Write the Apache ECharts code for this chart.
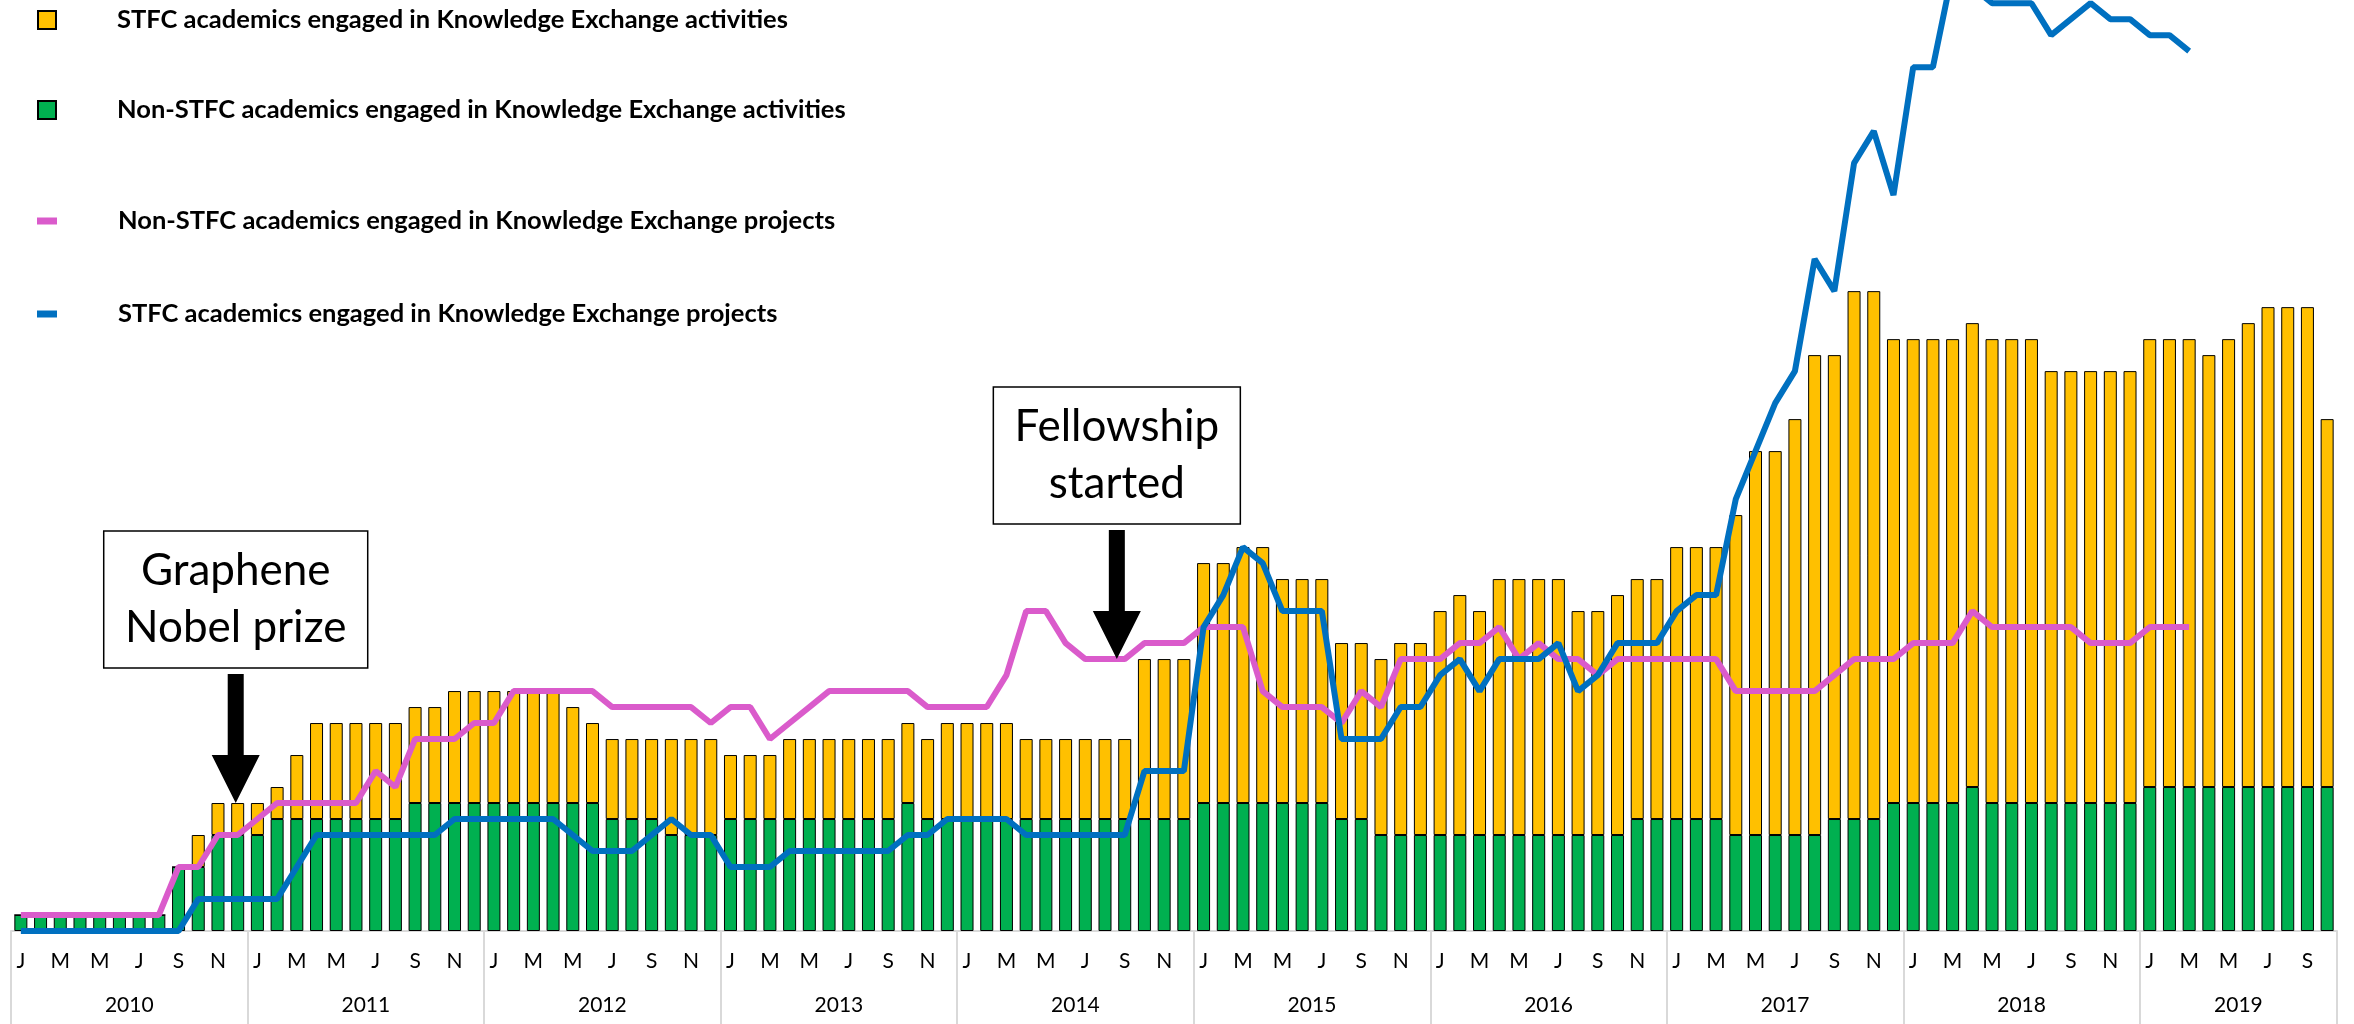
<!DOCTYPE html>
<html>
<head>
<meta charset="utf-8">
<title>Knowledge Exchange engagement</title>
<script src="https://cdn.jsdelivr.net/npm/echarts@6/dist/echarts.min.js"></script>
<style>
  html, body { margin: 0; padding: 0; background: #fff; }
  #chart { width: 2354px; height: 1024px; }
</style>
</head>
<body>
<div id="chart"></div>
<script>
// month letters and years for the two-level x axis
const monthLetters = ["J", "F", "M", "A", "M", "J", "J", "A", "S", "O", "N", "D"];
const years = ["2010", "2011", "2012", "2013", "2014", "2015", "2016", "2017", "2018", "2019"];
const monthsPerYear = [12, 12, 12, 12, 12, 12, 12, 12, 12, 10];

// Non-STFC academics engaged in KE activities (green, bottom of stack)
const nonStfcActivities = [
  1, 1, 1, 1, 1, 1, 1, 1, 4, 4, 6, 6,
  6, 7, 7, 7, 7, 7, 7, 7, 8, 8, 8, 8,
  8, 8, 8, 8, 8, 8, 7, 7, 7, 6, 6, 6,
  7, 7, 7, 7, 7, 7, 7, 7, 7, 8, 7, 7,
  7, 7, 7, 7, 7, 7, 7, 7, 7, 7, 7, 7,
  8, 8, 8, 8, 8, 8, 8, 7, 7, 6, 6, 6,
  6, 6, 6, 6, 6, 6, 6, 6, 6, 6, 7, 7,
  7, 7, 7, 6, 6, 6, 6, 6, 7, 7, 7, 8,
  8, 8, 8, 9, 8, 8, 8, 8, 8, 8, 8, 8,
  9, 9, 9, 9, 9, 9, 9, 9, 9, 9
];

// STFC academics engaged in KE activities (yellow, stacked on top)
const stfcActivities = [
  0, 0, 0, 0, 0, 0, 0, 0, 0, 2, 2, 2,
  2, 2, 4, 6, 6, 6, 6, 6, 6, 6, 7, 7,
  7, 7, 7, 7, 6, 5, 5, 5, 5, 6, 6, 6,
  4, 4, 4, 5, 5, 5, 5, 5, 5, 5, 5, 6,
  6, 6, 6, 5, 5, 5, 5, 5, 5, 10, 10, 10,
  15, 15, 16, 16, 14, 14, 14, 11, 11, 11, 12, 12,
  14, 15, 14, 16, 16, 16, 16, 14, 14, 15, 15, 15,
  17, 17, 17, 20, 24, 24, 26, 30, 29, 33, 33, 29,
  29, 29, 29, 29, 29, 29, 29, 27, 27, 27, 27, 27,
  28, 28, 28, 27, 28, 29, 30, 30, 30, 23
];

// Non-STFC academics engaged in KE projects (pink line)
const nonStfcProjects = [
  1, 1, 1, 1, 1, 1, 1, 1, 4, 4, 6, 6,
  7, 8, 8, 8, 8, 8, 10, 9, 12, 12, 12, 13,
  13, 15, 15, 15, 15, 15, 14, 14, 14, 14, 14, 13,
  14, 14, 12, 13, 14, 15, 15, 15, 15, 15, 14, 14,
  14, 14, 16, 20, 20, 18, 17, 17, 17, 18, 18, 18,
  19, 19, 19, 15, 14, 14, 14, 13, 15, 14, 17, 17,
  17, 18, 18, 19, 17, 18, 17, 17, 16, 17, 17, 17,
  17, 17, 17, 15, 15, 15, 15, 15, 16, 17, 17, 17,
  18, 18, 18, 20, 19, 19, 19, 19, 19, 18, 18, 18,
  19, 19, 19
];

// STFC academics engaged in KE projects (blue line)
const stfcProjects = [
  0, 0, 0, 0, 0, 0, 0, 0, 0, 2, 2, 2,
  2, 2, 4, 6, 6, 6, 6, 6, 6, 6, 7, 7,
  7, 7, 7, 7, 6, 5, 5, 5, 6, 7, 6, 6,
  4, 4, 4, 5, 5, 5, 5, 5, 5, 6, 6, 7,
  7, 7, 7, 6, 6, 6, 6, 6, 6, 10, 10, 10,
  19, 21, 24, 23, 20, 20, 20, 12, 12, 12, 14, 14,
  16, 17, 15, 17, 17, 17, 18, 15, 16, 18, 18, 18,
  20, 21, 21, 27, 30, 33, 35, 42, 40, 48, 50, 46,
  54, 54, 60, 59, 58, 58, 58, 56, 57, 58, 57, 57,
  56, 56, 55
];

const names = [
  "STFC academics engaged in Knowledge Exchange activities",
  "Non-STFC academics engaged in Knowledge Exchange activities",
  "Non-STFC academics engaged in Knowledge Exchange projects",
  "STFC academics engaged in Knowledge Exchange projects"
];

const categories = [];
const yearTicks = [0];
const yearCentres = [];
years.forEach(function (y, i) {
  for (let m = 0; m < monthsPerYear[i]; m++) {
    categories.push(monthLetters[m] + " " + y);
  }
  const start = yearTicks[yearTicks.length - 1];
  yearCentres.push(start + monthsPerYear[i] / 2);
  yearTicks.push(start + monthsPerYear[i]);
});

const FONT = "Lato, 'Noto Sans', sans-serif";

const chart = echarts.init(document.getElementById("chart"));

function legendFor(name, top, w, h) {
  return {
    data: [name],
    left: 37,
    top: top,
    padding: 0,
    itemWidth: w,
    itemHeight: h,
    icon: "rect",
    textStyle: {
      color: "#000",
      fontWeight: "bold",
      fontSize: 25.5,
      lineHeight: 28,
      fontFamily: FONT,
      padding: [0, 0, 0, 56]
    }
  };
}

chart.setOption({
  backgroundColor: "#FFFFFF",
  animation: false,
  legend: [
    legendFor(names[0], 6, 18, 18),
    legendFor(names[1], 96, 18, 18),
    legendFor(names[2], 207, 20, 7),
    legendFor(names[3], 300, 20, 7)
  ],
  grid: {
    left: 11,
    right: 17,
    top: 0,
    bottom: 93
  },
  xAxis: [
    {
      type: "category",
      data: categories,
      boundaryGap: true,
      axisLine: { lineStyle: { color: "#D9D9D9", width: 2 } },
      axisTick: { show: false },
      axisLabel: {
        interval: 1,
        margin: 20,
        color: "#000",
        fontSize: 21,
        fontFamily: FONT,
        formatter: function (v) {
          return v.split(" ")[0];
        }
      }
    },
    {
      type: "value",
      min: 0,
      max: yearTicks[yearTicks.length - 1],
      position: "bottom",
      axisLine: { show: false },
      splitLine: { show: false },
      axisTick: {
        show: true,
        customValues: yearTicks,
        length: 93,
        lineStyle: { color: "#D9D9D9", width: 2 }
      },
      axisLabel: {
        customValues: yearCentres,
        margin: 64,
        color: "#000",
        fontSize: 21,
        fontFamily: FONT,
        formatter: function (v) {
          return years[yearCentres.indexOf(v)];
        }
      }
    }
  ],
  yAxis: {
    type: "value",
    min: 0,
    max: 58.2,
    show: false
  },
  series: [
    {
      name: names[1],
      type: "bar",
      stack: "activities",
      barWidth: 13,
      data: nonStfcActivities,
      itemStyle: { color: "#00B050", borderColor: "#000", borderWidth: 1 }
    },
    {
      name: names[0],
      type: "bar",
      stack: "activities",
      barWidth: 13,
      data: stfcActivities,
      itemStyle: { color: "#FFC000", borderColor: "#000", borderWidth: 1 }
    },
    {
      name: names[2],
      type: "line",
      data: nonStfcProjects,
      symbol: "none",
      color: "#DA5BCB",
      lineStyle: { color: "#DA5BCB", width: 6 }
    },
    {
      name: names[3],
      type: "line",
      data: stfcProjects,
      symbol: "none",
      color: "#0070C0",
      lineStyle: { color: "#0070C0", width: 6 }
    }
  ]
});

// callout boxes with arrows, anchored to the chart's own coordinates
function callout(tip, lines, boxW) {
  const x = tip[0], y = tip[1];
  const boxH = 137, boxBottom = y - 135;
  return [
    {
      type: "rect",
      shape: { x: x - boxW / 2, y: boxBottom - boxH, width: boxW, height: boxH },
      style: { fill: "#fff", stroke: "#000", lineWidth: 1.5 },
      z: 100
    },
    {
      type: "text",
      z: 101,
      style: {
        x: x,
        y: boxBottom - boxH / 2,
        text: lines.join("\n"),
        align: "center",
        verticalAlign: "middle",
        fontSize: 44,
        lineHeight: 57,
        fontFamily: FONT,
        fill: "#000"
      }
    },
    {
      type: "polygon",
      z: 100,
      shape: {
        points: [
          [x - 8, y - 129], [x + 8, y - 129], [x + 8, y - 48], [x + 24, y - 48],
          [x, y], [x - 24, y - 48], [x - 8, y - 48]
        ]
      },
      style: { fill: "#000" }
    }
  ];
}

const nobelTip = chart.convertToPixel({ xAxisIndex: 1, yAxisIndex: 0 }, [11.4, 8]);
const fellowTip = chart.convertToPixel({ xAxisIndex: 1, yAxisIndex: 0 }, [56.1, 17]);
chart.setOption({
  graphic: callout(nobelTip, ["Graphene", "Nobel prize"], 264)
    .concat(callout(fellowTip, ["Fellowship", "started"], 247))
});
</script>
</body>
</html>
